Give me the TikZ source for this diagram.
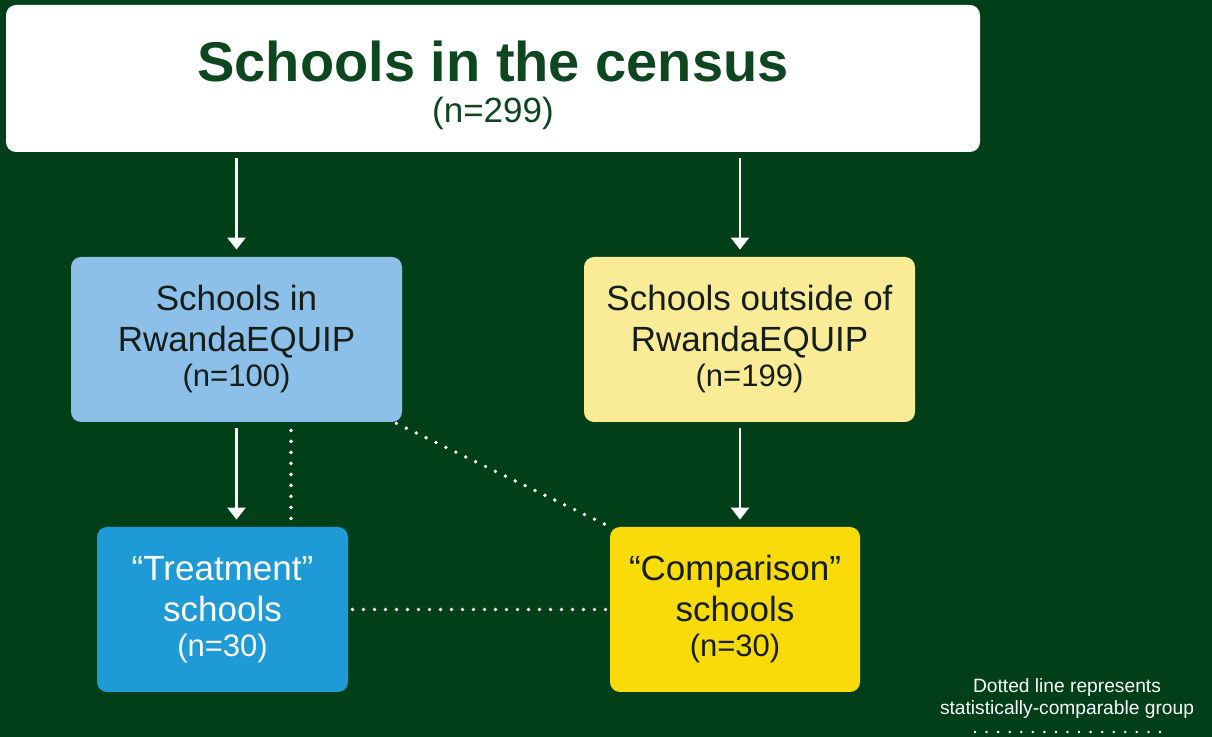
\documentclass[tikz,border=0pt]{standalone}
\usepackage{fontspec}
\setmainfont{Liberation Sans}
\usetikzlibrary{arrows.meta}

\definecolor{bggreen}{RGB}{0,63,23}
\definecolor{titlegreen}{RGB}{14,70,32}
\definecolor{inkdark}{RGB}{22,30,26}
\definecolor{paleblue}{RGB}{141,192,232}
\definecolor{paleyellow}{RGB}{250,236,150}
\definecolor{deepblue}{RGB}{30,154,214}
\definecolor{deepyellow}{RGB}{249,219,10}

\newcommand{\nsize}{\fontsize{15.5}{17.5}\selectfont}

\tikzset{
  box/.style={rounded corners=5pt, align=center, inner sep=0pt, text=inkdark,
    font=\fontsize{17.5}{20.5}\selectfont},
  arr/.style={draw=white, line width=1.25pt, -{Triangle[width=9pt,length=6pt]},
    shorten <=3pt, shorten >=3.5pt},
  dots/.style={draw=white, line width=1.9pt, line cap=round, dash pattern=on 0pt off 5.5pt},
}

\begin{document}
\begin{tikzpicture}[x=0.5pt,y=-0.5pt]
% page and background
\fill[bggreen] (0,0) rectangle (1212,737);
\useasboundingbox (0,0) rectangle (1212,737);

% boxes
\node[box, fill=white, text=titlegreen, minimum width=487pt, minimum height=73.5pt] (census) at (493,78.5)
  {\rule{0pt}{27.5pt}{\fontsize{28}{33}\selectfont\bfseries Schools in the census}\\[0pt]{\fontsize{17.5}{20.5}\selectfont (n=299)}};
\node[box, fill=paleblue, minimum width=165.5pt, minimum height=82.5pt] (inequip) at (236.5,339.5)
  {Schools in\\RwandaEQUIP\\[-3pt]{\nsize (n=100)}};
\node[box, fill=paleyellow, minimum width=165.5pt, minimum height=82.5pt] (outequip) at (749.5,339.5)
  {Schools outside of\\RwandaEQUIP\\[-3pt]{\nsize (n=199)}};
\node[box, fill=deepblue, text=white, minimum width=125.5pt, minimum height=82.5pt] (treat) at (222.5,609.5)
  {``Treatment''\\schools\\[-3pt]{\nsize (n=30)}};
\node[box, fill=deepyellow, minimum width=125pt, minimum height=82.5pt] (comp) at (735,609.5)
  {``Comparison''\\schools\\[-3pt]{\nsize (n=30)}};

% arrows
\draw[arr] (census.south -| inequip) -- (inequip);
\draw[arr] ([xshift=-4.75pt]census.south -| outequip) -- ([xshift=-4.75pt]outequip.north);
\draw[arr] (inequip.south) -- (inequip.south |- treat.north);
\draw[arr] ([xshift=-4.75pt]outequip.south) -- ([xshift=2.5pt]comp.north);

% comparable groups
\draw[dots] ([xshift=27.25pt,yshift=-4pt]inequip.south) -- ([xshift=27.25pt,yshift=3.5pt]inequip.south |- treat.north);
\draw[dots] ([xshift=-3pt,yshift=-0.5pt]inequip.south east) -- (comp.north west);
\draw[dots] ([xshift=2pt]treat.east) -- ([xshift=-2pt]comp.west);

% legend
\node[align=center, text=white, font=\fontsize{9.6}{11}\selectfont] (note) at (1067,699)
  {Dotted line represents\\statistically-comparable group};
\coordinate (dotl) at (975,732);
\coordinate (dotr) at (1160,732);
\draw[dots, line width=1.4pt, dash pattern=on 0pt off 5.78pt] (dotl) -- (dotr);
\end{tikzpicture}
\end{document}
